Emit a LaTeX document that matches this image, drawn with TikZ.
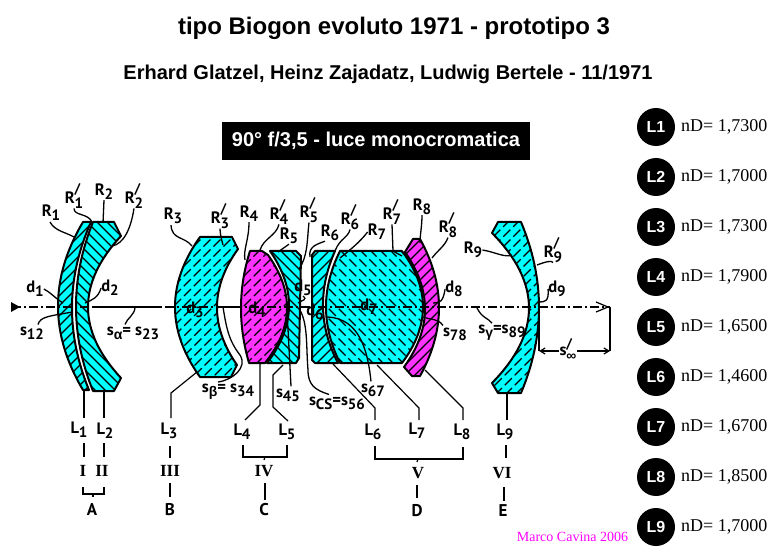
\documentclass[tikz,border=0pt]{standalone}
\usepackage{fontspec}
\setmainfont{Liberation Serif}
\setsansfont{Liberation Sans}
\newfontfamily\din{PT Sans}
\usetikzlibrary{arrows.meta}
\definecolor{lenscyan}{RGB}{0,255,255}
\definecolor{lensmag}{RGB}{255,51,255}
\newcommand\bow[5]{.. controls ({(4*#3-(#1+#4)/2)/3},{#2+(#5-#2)/3}) and ({(4*#3-(#1+#4)/2)/3},{#2+2*(#5-#2)/3}) .. (#4,#5)}
% colour, direction, centre x, hatch options, path
\newcommand\lens[5]{%
  \fill[#1] #5;
  \begin{scope}
    \clip #5;
    \foreach \i in {-17,...,17}{
      \draw[hatchline,#4] ({#3+\i*10-100*#2},405) -- ({#3+\i*10+100*#2},205);
    }
  \end{scope}
  \draw[lensline] #5;
}
\newcommand\Sb[2]{#1\raisebox{-4pt}{\fontsize{15}{15}\selectfont #2}}
\newcommand\Gk[1]{\raisebox{-4pt}{\sffamily\fontsize{14}{14}\selectfont #1}}
\newcommand\Rp[1]{R\rlap{\raisebox{9.5pt}{\fontsize{14}{14}\selectfont /}}\raisebox{-5pt}{\fontsize{15}{15}\selectfont #1}}
\tikzset{
  hatchline/.style={black,line width=1.1pt},
  lensline/.style={black,line width=2pt,line join=round},
  lead/.style={black,line width=1.3pt},
  tick/.style={black,line width=1.2pt},
  dashy/.style={dash pattern=on 10pt off 4pt},
  lbl/.style={font=\din\bfseries\fontsize{16.5}{17}\selectfont,inner sep=0pt,text=black},
  grouplbl/.style={font=\din\bfseries\fontsize{17}{17}\selectfont,inner sep=0pt,text=black},
  rom/.style={font=\rmfamily\bfseries\fontsize{17}{17}\selectfont,inner sep=0pt},
  disc/.style={circle,fill=black,minimum size=38pt,inner sep=0pt,text=white,font=\sffamily\bfseries\fontsize{16}{16}\selectfont},
  nd/.style={font=\rmfamily\fontsize{18}{18}\selectfont,anchor=west,inner sep=0pt}
}
\begin{document}
\begin{tikzpicture}[x=1pt,y=-1pt]
\useasboundingbox (0,0) rectangle (776,553);
\fill[white] (0,0) rectangle (776,553);
% titles
\node[font=\sffamily\bfseries\fontsize{24}{24}\selectfont,inner sep=0pt] (title) at (394,28) {tipo Biogon evoluto 1971 - prototipo 3};
\node[font=\sffamily\bfseries\fontsize{20}{20}\selectfont,inner sep=0pt] (sub) at (388,74) {Erhard Glatzel, Heinz Zajadatz, Ludwig Bertele - 11/1971};
\node[fill=black,text=white,font=\sffamily\bfseries\fontsize{20}{20}\selectfont,minimum width=308pt,minimum height=38pt,inner sep=0pt] (box) at (376,141) {90° f/3,5 - luce monocromatica};
% lenses
\lens{lenscyan}{1}{70}{}{(83,222) -- (91,222) \bow{91}{222}{72}{89}{390} -- (83,390) \bow{83}{390}{58}{83}{222} -- cycle}
\lens{lenscyan}{-1}{100}{}{(93,222) -- (114,222) -- (121,236) \bow{121}{236}{88}{121}{378} -- (114,391) -- (93,391) \bow{93}{391}{76}{93}{222} -- cycle}
\lens{lenscyan}{1}{205}{dashy}{(200,237) -- (232,237) -- (238,249) \bow{238}{249}{217}{237}{365} -- (231,377) -- (200,377) \bow{200}{377}{175}{200}{237} -- cycle}
\lens{lensmag}{1}{265}{dashy}{(250,251) -- (262,251) -- (268,255) \bow{268}{255}{287}{265}{363} -- (249,363) \bow{249}{363}{241}{250}{251} -- cycle}
\lens{lenscyan}{-1}{285}{}{(270,251) -- (296,251) -- (301,256) -- (299,358) -- (296,363) -- (267,363) \bow{267}{363}{289}{270}{251} -- cycle}
\lens{lenscyan}{1}{325}{}{(315,251) -- (335,251) \bow{335}{251}{323}{338}{363} -- (315,363) -- (312,360) -- (312,255) -- cycle}
\lens{lenscyan}{-1}{375}{dashy}{(340,251) -- (402,251) \bow{402}{251}{423}{402}{363} -- (340,363) \bow{340}{363}{326}{340}{251} -- cycle}
\lens{lensmag}{1}{425}{}{(405,252) -- (413,239) -- (420,239) \bow{420}{239}{439}{420}{376} -- (412,376) -- (404,367) \bow{404}{367}{425}{405}{252} -- cycle}
\lens{lenscyan}{1}{515}{dashy}{(498,222) -- (521,222) \bow{521}{222}{539}{521}{393} -- (498,393) -- (492,383) \bow{492}{383}{529}{492}{233} -- cycle}
% axis
\coordinate (axL) at (12,307);
\coordinate (axR) at (610,307);
\draw[line width=1.2pt,dash pattern=on 9pt off 3pt on 2pt off 3pt] (axL) -- (axR);
\draw[line width=1.2pt] (93,307) -- (160,307) (217,307) -- (242,307);
\fill (20,307) -- (11,302) -- (11,312) -- cycle;
\draw[line width=1.2pt] (596,302) -- (608,307) -- (596,312);
% back focus
\coordinate (bfA) at (539,351);
\coordinate (bfB) at (610,351);
\draw[line width=1.2pt] (axR) -- (bfB);
\draw[line width=1.2pt] (539,308) -- (bfA);
\draw[line width=1.2pt,{Straight Barb[length=5pt,width=6pt]}-{Straight Barb[length=5pt,width=6pt]}] (bfA) -- (bfB);
% labels over lenses
\node[lbl] (R1) at (51,213) {\Sb{R}{1}};
\node[lbl] (Rp1) at (74,196) {\Rp{1}};
\node[lbl] (R2) at (104,192) {\Sb{R}{2}};
\node[lbl] (Rp2) at (134,196) {\Rp{2}};
\node[lbl] (R3) at (173,216) {\Sb{R}{3}};
\node[lbl] (Rp3) at (220,216) {\Rp{3}};
\node[lbl] (R4) at (249,214) {\Sb{R}{4}};
\node[lbl] (Rp4) at (279,212) {\Rp{4}};
\node[lbl] (R5) at (289,236) {\Sb{R}{5}};
\node[lbl] (Rp5) at (309,210) {\Rp{5}};
\node[lbl] (R6) at (330,233) {\Sb{R}{6}};
\node[lbl] (Rp6) at (350,217) {\Rp{6}};
\node[lbl] (R7) at (377,232) {\Sb{R}{7}};
\node[lbl] (Rp7) at (392,212) {\Rp{7}};
\node[lbl] (R8) at (422,207) {\Sb{R}{8}};
\node[lbl] (Rp8) at (448,225) {\Rp{8}};
\node[lbl] (R9) at (473,250) {\Sb{R}{9}};
\node[lbl] (Rp9) at (553,250) {\Rp{9}};
\node[lbl] (d1) at (35,289) {\Sb{d}{1}};
\node[lbl] (d2) at (110,288) {\Sb{d}{2}};
\node[lbl] (d3) at (195,310) {\Sb{d}{3}};
\node[lbl] (d4) at (257,310) {\Sb{d}{4}};
\node[lbl] (d5) at (303,288) {\Sb{d}{5}};
\node[lbl] (d6) at (315,312) {\Sb{d}{6}};
\node[lbl] (d7) at (369,307) {\Sb{d}{7}};
\node[lbl] (d8) at (454,289) {\Sb{d}{8}};
\node[lbl] (d9) at (557,289) {\Sb{d}{9}};
\node[lbl] (s12) at (32,333) {\Sb{s}{12}};
\node[lbl] (s23) at (133,333) {s\Gk{α}= \Sb{s}{23}};
\node[lbl] (s34) at (228,392) {s\Gk{β}= \Sb{s}{34}};
\node[lbl] (s45) at (288,395) {\Sb{s}{45}};
\node[lbl] (s56) at (337,403) {\Sb{s}{CS}=\Sb{s}{56}};
\node[lbl] (s67) at (373,390) {\Sb{s}{67}};
\node[lbl] (s78) at (455,334) {\Sb{s}{78}};
\node[lbl] (s89) at (502,333) {s\Gk{γ}=\Sb{s}{89}};
\node[lbl,fill=white,inner sep=1pt] (sinf) at (568,350) {s\rlap{\raisebox{7pt}{\fontsize{14}{14}\selectfont /}}\raisebox{-5pt}{\sffamily\fontsize{14}{14}\selectfont ∞}};
% leaders
\draw[lead] (R1.south) ++(-1,1) .. controls (55,231) and (65,232) .. (74,237);
\draw[lead] (Rp1.south) .. controls (74,216) and (88,213) .. (92,222);
\draw[lead] (R2.south) -- (103,223);
\draw[lead] (Rp2.south) .. controls (131,228) and (124,244) .. (112,246);
\draw[lead] (R3.south) ++(-2,1) .. controls (172,240) and (184,236) .. (192,246);
\draw[lead] (Rp3.south) .. controls (220,232) and (221,238) .. (223,245);
\draw[lead] (R4.south) .. controls (249,240) and (243,250) .. (245,260);
\draw[lead] (Rp4.south) .. controls (276,236) and (264,238) .. (260,250);
\draw[lead] (R5.south) -- (278,252);
\draw[lead] (Rp5.south) .. controls (307,240) and (308,256) .. (299,269);
\draw[lead] (R6.south) ++(-5,0) .. controls (318,244) and (308,246) .. (310,257);
\draw[lead] (Rp6.south) .. controls (348,238) and (340,238) .. (335,251);
\draw[lead] (R7.west) .. controls (360,242) and (350,250) .. (340,258);
\draw[lead] (Rp7.south) -- (393,251) -- (402,256);
\draw[lead] (R8.south) .. controls (422,226) and (420,235) .. (420,243);
\draw[lead] (Rp8.south) .. controls (445,246) and (438,250) .. (432,258);
\draw[lead] (R9.east) .. controls (495,252) and (505,258) .. (512,255);
\draw[lead] (Rp9.south) .. controls (552,260) and (545,262) .. (537,265);
\draw[lead] (d1.east) .. controls (50,292) and (55,298) .. (63,303);
\draw[lead] (d2.west) .. controls (98,298) and (92,300) .. (85,303);
\draw[lead] (d5.south) .. controls (308,300) and (302,300) .. (298,303);
\draw[lead] (d8.west) .. controls (443,302) and (440,303) .. (433,303);
\draw[lead] (d9.west) .. controls (549,302) and (545,302) .. (538,302);
\draw[lead] (s12.north) ++(6,-2) .. controls (40,316) and (52,316) .. (72,312);
\draw[lead] (s23.north) ++(-8,-2) .. controls (127,318) and (135,315) .. (135,307);
\draw[lead] (s34.north) ++(-10,-2) .. controls (232,380) and (248,368) .. (240,355) .. controls (228,340) and (226,325) .. (223,307);
\draw[lead] (s45.north) ++(3,-2) -- (287,310);
\draw[lead] (s56.north) ++(-8,-2) .. controls (315,390) and (308,385) .. (308,370) .. controls (306,345) and (308,325) .. (300,310);
\draw[lead] (s67.north) ++(-2,-2) .. controls (368,352) and (360,318) .. (327,317);
\draw[lead] (s78.north) ++(-12,-2) .. controls (438,318) and (430,320) .. (423,317);
\draw[lead] (s89.north) ++(-10,-2) .. controls (488,318) and (482,318) .. (477,308);
% bottom tree
\node[lbl] (L1) at (79,430) {\Sb{L}{1}};
\node[lbl] (L2) at (105,431) {\Sb{L}{2}};
\node[lbl] (L3) at (169,431) {\Sb{L}{3}};
\node[lbl] (L4) at (242,432) {\Sb{L}{4}};
\node[lbl] (L5) at (287,432) {\Sb{L}{5}};
\node[lbl] (L6) at (373,432) {\Sb{L}{6}};
\node[lbl] (L7) at (417,431) {\Sb{L}{7}};
\node[lbl] (L8) at (462,432) {\Sb{L}{8}};
\node[lbl] (L9) at (505,432) {\Sb{L}{9}};
\node[rom] (rI) at (83,471) {I};
\node[rom] (rII) at (102,471) {II};
\node[rom] (rIII) at (170,471) {III};
\node[rom] (rIV) at (264,471) {IV};
\node[rom] (rV) at (418,473) {V};
\node[rom] (rVI) at (502,473) {VI};
\node[grouplbl] (A) at (92,510) {A};
\node[grouplbl] (B) at (170,510) {B};
\node[grouplbl] (C) at (264,510) {C};
\node[grouplbl] (D) at (417,511) {D};
\node[grouplbl] (E) at (503,511) {E};
\draw[tick] (84,390) -- (84,418) (104,391) -- (104,418);
\draw[tick] (197,372) -- (171,393) -- (171,418);
\draw[tick] (260,363) -- (260,405) -- (245,420);
\draw[tick] (283,365) -- (273,375) -- (273,407) -- (288,421);
\draw[tick] (333,364) -- (375,408) -- (375,420);
\draw[tick] (377,365) -- (419,408) -- (419,420);
\draw[tick] (425,370) -- (463,408) -- (463,420);
\draw[tick] (507,393) -- (507,420);
\draw[tick] (84,443) -- (84,457) (104,443) -- (104,457) (170,446) -- (170,458);
\draw[tick] (506,445) -- (506,458);
\draw[tick] (243,445) -- (243,457) -- (287,457) -- (287,445);
\draw[tick] (265,457) -- (264,460);
\draw[tick] (375,446) -- (375,459) -- (463,459) -- (463,447);
\draw[tick] (418,459) -- (417,462);
\draw[tick] (83,487) -- (83,494) -- (104,494) -- (104,487);
\draw[tick] (93,494) -- (93,497);
\draw[tick] (170,483) -- (170,497);
\draw[tick] (265,483) -- (265,500);
\draw[tick] (417,485) -- (417,498);
\draw[tick] (504,487) -- (504,501);
% index
\node[disc] (c1) at (656,127) {L1};
\node[disc] (c2) at (656,177) {L2};
\node[disc] (c3) at (656,227) {L3};
\node[disc] (c4) at (656,277) {L4};
\node[disc] (c5) at (656,327) {L5};
\node[disc] (c6) at (656,377) {L6};
\node[disc] (c7) at (656,427) {L7};
\node[disc] (c8) at (656,477) {L8};
\node[disc] (c9) at (656,527) {L9};
\node[nd] (n1) at (681,127) {nD= 1,7300};
\node[nd] (n2) at (681,177) {nD= 1,7000};
\node[nd] (n3) at (681,227) {nD= 1,7300};
\node[nd] (n4) at (681,277) {nD= 1,7900};
\node[nd] (n5) at (681,327) {nD= 1,6500};
\node[nd] (n6) at (681,377) {nD= 1,4600};
\node[nd] (n7) at (681,427) {nD= 1,6700};
\node[nd] (n8) at (681,477) {nD= 1,8500};
\node[nd] (n9) at (681,527) {nD= 1,7000};
\node[font=\rmfamily\fontsize{14}{14}\selectfont,text={rgb,255:red,255;green,0;blue,255},inner sep=0pt] (mc) at (572.5,537) {Marco Cavina 2006};
\end{tikzpicture}
\end{document}
